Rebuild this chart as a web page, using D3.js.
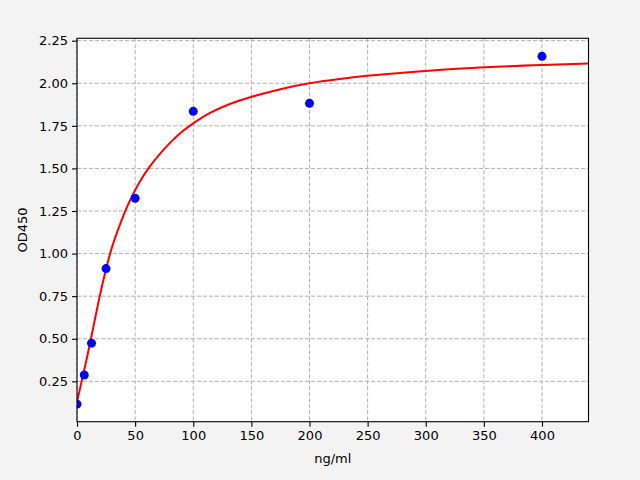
<!DOCTYPE html>
<html>
<head>
<meta charset="utf-8">
<script src="https://cdn.jsdelivr.net/npm/d3@7"></script>
<style>
  html, body { margin: 0; padding: 0; background: #f3f3f3; }
  svg { display: block; }
  text { font-family: "DejaVu Sans", sans-serif; }
</style>
</head>
<body>
<svg id="chart" width="640" height="480"></svg>
<script>
// Measured standard points (concentration ng/ml, OD450)
const concentrations = [0, 6.25, 12.5, 25, 50, 100, 200, 400];
const odValues = [0.116, 0.287, 0.474, 0.912, 1.325, 1.835, 1.882, 2.158];

// Fitted curve
const curveX = [0, 6, 12, 18.6, 25, 31.5, 40, 46, 54, 63, 71, 80, 89, 97, 114, 132, 149, 175, 200, 226, 252, 300, 351, 400, 440];
const curveY = [0.13, 0.31, 0.50, 0.72, 0.91, 1.067, 1.225, 1.318, 1.422, 1.515, 1.583, 1.65, 1.708, 1.75, 1.824, 1.88, 1.918, 1.965, 2.0, 2.025, 2.045, 2.072, 2.094, 2.107, 2.116];

const xTicks = [0, 50, 100, 150, 200, 250, 300, 350, 400];
const yTicks = [0.25, 0.50, 0.75, 1.00, 1.25, 1.50, 1.75, 2.00, 2.25];

(function () {
const svg = d3.select("#chart");
const L = 77, R = 588.5, T = 38.3, B = 421.7;

const x = d3.scaleLinear().domain([0, 440]).range([L, R]);
const y = d3.scaleLinear().domain([0.013, 2.264]).range([B, T]);

// axes background
svg.append("rect").attr("x", L).attr("y", T)
  .attr("width", R - L).attr("height", B - T).attr("fill", "#ffffff");

// grid
const grid = svg.append("g");
grid.selectAll(".vg").data(xTicks).enter().append("line")
  .attr("x1", d => x(d)).attr("x2", d => x(d)).attr("y1", T).attr("y2", B)
  .attr("stroke", "#b0b0b0").attr("stroke-width", 1).attr("stroke-dasharray", "4,2");
grid.selectAll(".hg").data(yTicks).enter().append("line")
  .attr("x1", L).attr("x2", R).attr("y1", d => y(d)).attr("y2", d => y(d))
  .attr("stroke", "#b0b0b0").attr("stroke-width", 1).attr("stroke-dasharray", "4,2");

// clip to axes
svg.append("clipPath").attr("id", "clip").append("rect")
  .attr("x", L).attr("y", T).attr("width", R - L).attr("height", B - T);

// curve
const line = d3.line().x((d, i) => x(curveX[i])).y(d => y(d)).curve(d3.curveNatural);
svg.append("path").datum(curveY).attr("d", line).attr("clip-path", "url(#clip)")
  .attr("fill", "none").attr("stroke", "#ff0000").attr("stroke-width", 2);

// points
svg.append("g").attr("clip-path", "url(#clip)")
  .selectAll("circle").data(concentrations).enter().append("circle")
  .attr("cx", d => x(d)).attr("cy", (d, i) => y(odValues[i])).attr("r", 4.5)
  .attr("fill", "#0000ff");

// axes
const xAxis = d3.axisBottom(x).tickValues(xTicks).tickFormat(d3.format("d")).tickSize(5).tickPadding(4);
const yAxis = d3.axisLeft(y).tickValues(yTicks).tickFormat(d3.format(".2f")).tickSize(5).tickPadding(4);

const gx = svg.append("g").attr("transform", `translate(0,${B})`).call(xAxis);
const gy = svg.append("g").attr("transform", `translate(${L},0)`).call(yAxis);
[gx, gy].forEach(g => {
  g.select(".domain").remove();
  g.selectAll("line").attr("stroke", "#000").attr("stroke-width", 1.1);
  g.selectAll("text").attr("font-size", 13).attr("fill", "#000")
    .style("font-family", "'DejaVu Sans', sans-serif");
});

// frame
svg.append("rect").attr("x", L).attr("y", T)
  .attr("width", R - L).attr("height", B - T)
  .attr("fill", "none").attr("stroke", "#000").attr("stroke-width", 1.1);

// labels
svg.append("text").attr("x", (L + R) / 2).attr("y", 463)
  .attr("text-anchor", "middle").attr("font-size", 13).text("ng/ml");
svg.append("text").attr("transform", `translate(27,${(T + B) / 2}) rotate(-90)`)
  .attr("text-anchor", "middle").attr("font-size", 13).text("OD450");
})();
</script>
</body>
</html>
